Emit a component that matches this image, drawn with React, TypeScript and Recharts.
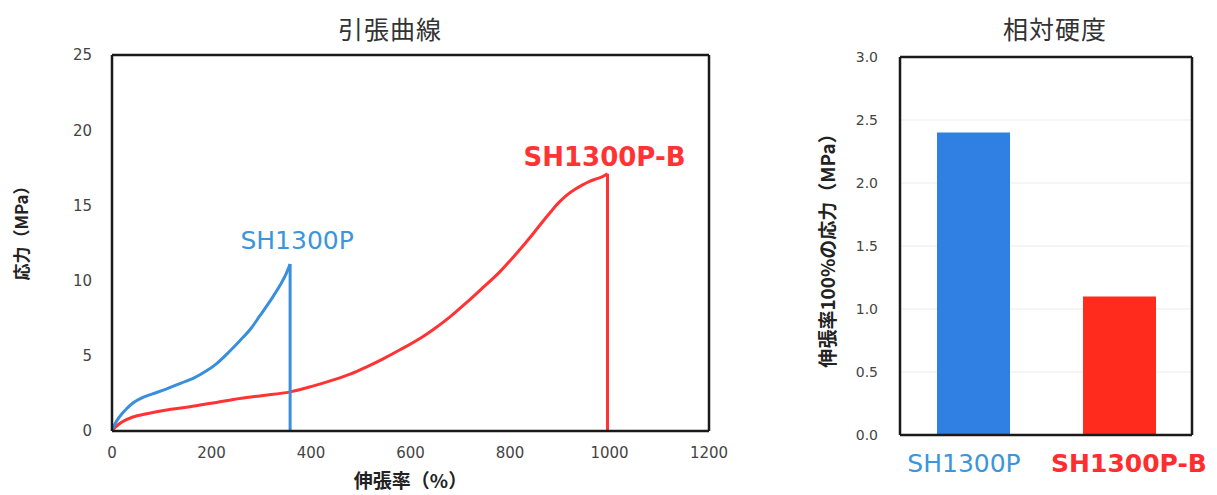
import { LineChart, Line, BarChart, Bar, Cell, XAxis, YAxis, CartesianGrid, ReferenceDot } from 'recharts';

const blueX = [0, 5, 10, 20, 30, 42, 60, 80, 110, 140, 163, 190, 211, 235, 257, 280, 297, 320, 338, 350, 358, 358];
const blueY = [0, 0.4, 0.7, 1.15, 1.5, 1.86, 2.2, 2.45, 2.8, 3.2, 3.5, 4.0, 4.5, 5.25, 6.0, 6.85, 7.65, 8.75, 9.7, 10.45, 11.1, 0];

const redX = [0, 5, 10, 20, 42, 70, 110, 150, 177, 210, 244, 300, 358, 400, 445, 480, 512, 545, 579, 619, 646, 680, 713, 746, 780, 813, 846, 870, 885, 900, 915, 930, 945, 960, 975, 985, 996, 996];
const redY = [0, 0.2, 0.35, 0.6, 0.93, 1.15, 1.4, 1.58, 1.73, 1.9, 2.1, 2.35, 2.6, 2.95, 3.4, 3.8, 4.27, 4.8, 5.4, 6.15, 6.75, 7.6, 8.55, 9.55, 10.6, 11.8, 13.1, 14.1, 14.7, 15.25, 15.7, 16.05, 16.35, 16.6, 16.78, 16.9, 17.1, 0];

const xTicks = [0, 200, 400, 600, 800, 1000, 1200];
const yTicks = [0, 5, 10, 15, 20, 25];

const materials = ['SH1300P', 'SH1300P-B'];
const stress100 = [2.4, 1.1];
const hardTicks = [0, 0.5, 1.0, 1.5, 2.0, 2.5, 3.0];

const BLUE = '#3a8fdc';
const RED = '#ff3333';
const BAR_COLORS = ['#2f80e2', '#ff2c1e'];
const LABEL_COLORS = ['#3d95da', '#ff2e2e'];

const toPoints = (xs: number[], ys: number[]) => xs.map((x, i) => ({ x, y: ys[i] }));
const blueAll = toPoints(blueX, blueY);
const redAll = toPoints(redX, redY);
// the curve up to break, then the vertical drop at break
const blueCurve = blueAll.slice(0, -1);
const blueDrop = blueAll.slice(-2);
const redCurve = redAll.slice(0, -1);
const redDrop = redAll.slice(-2);
const barData = materials.map((name, i) => ({ name, value: stress100[i] }));

const tickFont = { fontFamily: 'DejaVu Sans', fontSize: 15, fill: '#444' };
const jp = '"Noto Sans CJK JP", sans-serif';
const frame = { stroke: '#1a1a1a', strokeWidth: 2.5 };

// top and right edges of the plot box
const topEdge = ({ offset }: any) => [offset.top];
const rightEdge = ({ offset }: any) => [offset.left + offset.width];

function CategoryTick(props: any) {
  const { x, y, payload, index } = props;
  const shift = index === 0 ? -9 : 10;
  return (
    <text
      x={x + shift}
      y={y + 29}
      textAnchor="middle"
      fill={LABEL_COLORS[index]}
      fontFamily="DejaVu Sans"
      fontWeight={index === 0 ? 400 : 700}
      fontSize={25}
    >
      {payload.value}
    </text>
  );
}

export default function App() {
  const blueTop = blueDrop[0];
  const redTop = redDrop[0];
  return (
    <div style={{ position: 'absolute', left: 0, top: 0, width: 1217, height: 495, background: '#fff' }}>
      <div style={{ position: 'absolute', left: 290, top: 10, width: 200, textAlign: 'center', fontFamily: jp, fontSize: 25, color: '#333', letterSpacing: 1 }}>
        引張曲線
      </div>
      <div style={{ position: 'absolute', left: 955, top: 10, width: 200, textAlign: 'center', fontFamily: jp, fontSize: 25, color: '#333', letterSpacing: 1 }}>
        相対硬度
      </div>

      <div style={{ position: 'absolute', left: 0, top: 0 }}>
        <LineChart width={760} height={495} margin={{ top: 55, right: 51, bottom: 0, left: 0 }}>
          <CartesianGrid
            stroke="#1a1a1a"
            strokeWidth={2.5}
            horizontalCoordinatesGenerator={topEdge}
            verticalCoordinatesGenerator={rightEdge}
          />
          <XAxis
            dataKey="x"
            type="number"
            domain={[0, 1200]}
            ticks={xTicks}
            height={64}
            tickLine={false}
            tickMargin={10}
            axisLine={frame}
            tick={tickFont}
            allowDuplicatedCategory={false}
            label={{ value: '伸張率（%）', position: 'insideBottom', offset: 7, style: { fontFamily: jp, fontSize: 19, fontWeight: 700, fill: '#222' } }}
          />
          <YAxis
            type="number"
            domain={[0, 25]}
            ticks={yTicks}
            width={112}
            tickLine={false}
            tickMargin={14}
            axisLine={frame}
            tick={tickFont}
            label={{ value: '応力（MPa）', angle: -90, position: 'insideLeft', offset: 22, dy: -14, style: { fontFamily: jp, fontSize: 17, fontWeight: 700, fill: '#222', textAnchor: 'middle' } }}
          />
          <Line data={redCurve} dataKey="y" type="monotone" stroke={RED} strokeWidth={3} dot={false} isAnimationActive={false} />
          <Line data={redDrop} dataKey="y" type="linear" stroke={RED} strokeWidth={3} dot={false} isAnimationActive={false} />
          <Line data={blueCurve} dataKey="y" type="monotone" stroke={BLUE} strokeWidth={3} dot={false} isAnimationActive={false} />
          <Line data={blueDrop} dataKey="y" type="linear" stroke={BLUE} strokeWidth={3} dot={false} isAnimationActive={false} />
          <ReferenceDot
            x={blueTop.x}
            y={blueTop.y}
            r={0}
            stroke="none"
            label={(p: any) => (
              <text x={p.viewBox.x + 7} y={p.viewBox.y - 15} textAnchor="middle" fill={LABEL_COLORS[0]} fontFamily="DejaVu Sans" fontSize={25}>
                SH1300P
              </text>
            )}
          />
          <ReferenceDot
            x={redTop.x}
            y={redTop.y}
            r={0}
            stroke="none"
            label={(p: any) => (
              <text x={p.viewBox.x - 3} y={p.viewBox.y - 8} textAnchor="middle" fill={RED} fontFamily="DejaVu Sans" fontWeight={700} fontSize={26}>
                SH1300P-B
              </text>
            )}
          />
        </LineChart>
      </div>

      <div style={{ position: 'absolute', left: 790, top: 0 }}>
        <BarChart width={427} height={495} data={barData} margin={{ top: 57, right: 25, bottom: 0, left: 0 }}>
          <CartesianGrid vertical={false} stroke="#ececec" />
          <CartesianGrid
            stroke="#1a1a1a"
            strokeWidth={2.5}
            horizontalCoordinatesGenerator={topEdge}
            verticalCoordinatesGenerator={rightEdge}
          />
          <XAxis dataKey="name" height={60} tickLine={false} axisLine={frame} tick={<CategoryTick />} interval={0} />
          <YAxis
            domain={[0, 3]}
            ticks={hardTicks}
            width={110}
            tickLine={false}
            tickMargin={16}
            axisLine={frame}
            tick={{ ...tickFont, fontSize: 14 }}
            tickFormatter={(v: number) => v.toFixed(1)}
            label={{ value: '伸張率100%の応力（MPa）', angle: -90, position: 'insideLeft', offset: 38, style: { fontFamily: jp, fontSize: 19, fontWeight: 700, fill: '#222', textAnchor: 'middle' } }}
          />
          <Bar dataKey="value" barSize={73} isAnimationActive={false}>
            {barData.map((d, i) => (
              <Cell key={d.name} fill={BAR_COLORS[i]} />
            ))}
          </Bar>
        </BarChart>
      </div>
    </div>
  );
}
